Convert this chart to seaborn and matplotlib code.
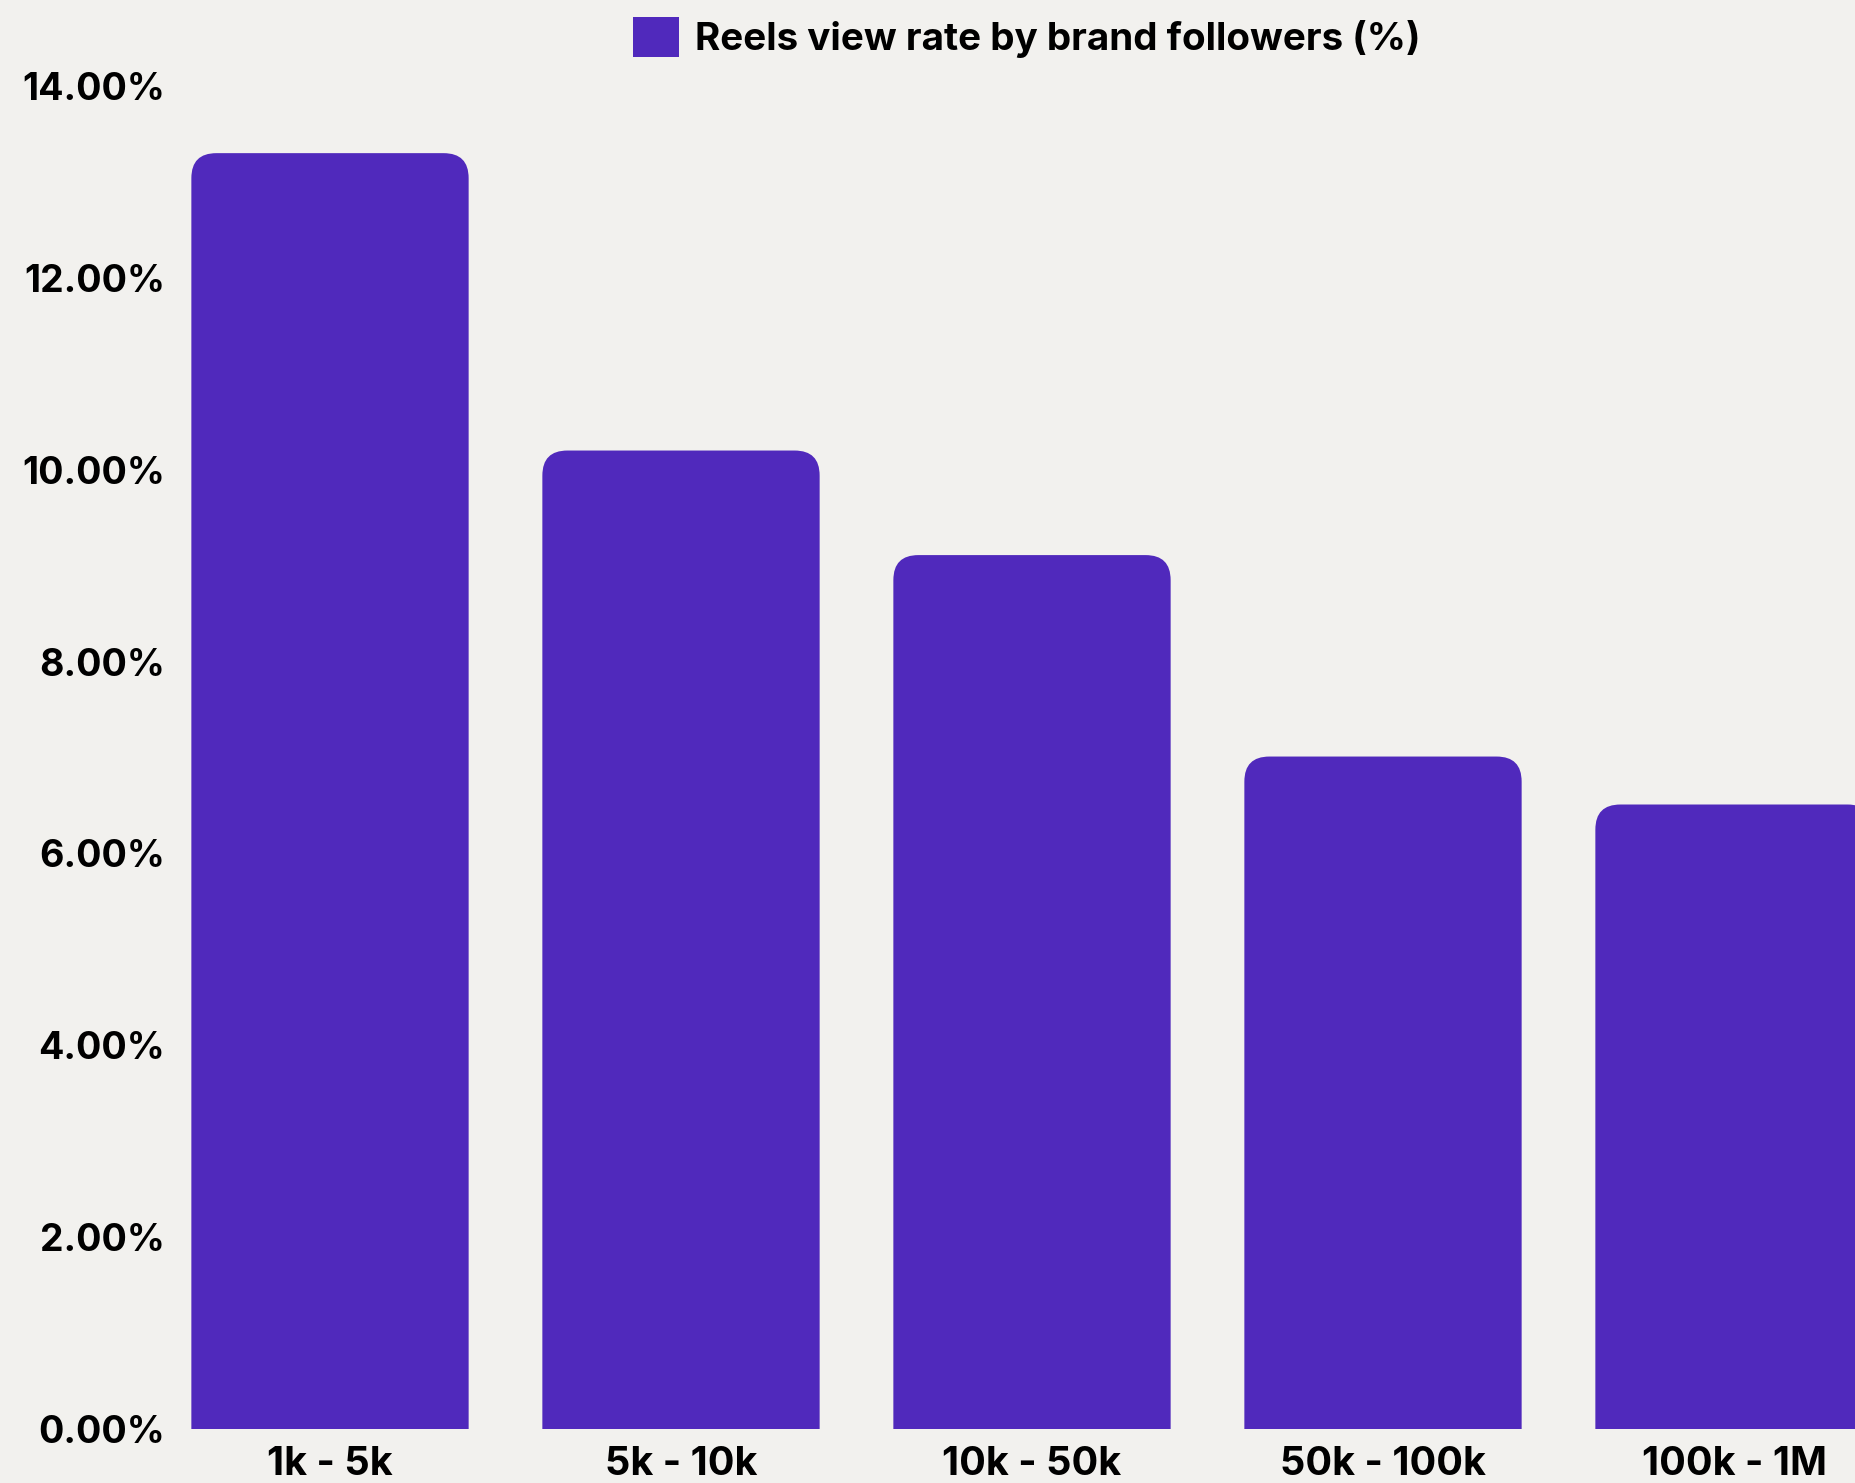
import matplotlib
matplotlib.use("Agg")
import matplotlib.pyplot as plt
import seaborn as sns
import pandas as pd
from matplotlib.patches import FancyBboxPatch, Patch

categories = ["1k - 5k", "5k - 10k", "10k - 50k", "50k - 100k", "100k - 1M"]
values = [13.30, 10.20, 9.11, 7.01, 6.51]
series_label = "Reels view rate by brand followers (%)"
yticks = [0, 2, 4, 6, 8, 10, 12, 14]

BAR = "#5029BC"
BG = "#F2F1EE"

sns.set_theme(style="white")
plt.rcParams["font.family"] = ["Inter", "DejaVu Sans"]
plt.rcParams["font.weight"] = "bold"
plt.rcParams["text.color"] = "black"

W, H = 1855, 1483
fig = plt.figure(figsize=(W / 100, H / 100), dpi=100, facecolor=BG)
left_px, right_px = 175, 1855
top_px, bottom_px = 86, 1429
ax = fig.add_axes([left_px / W, 1 - bottom_px / H, (right_px - left_px) / W, (bottom_px - top_px) / H])
ax.set_facecolor(BG)

df = pd.DataFrame({"cat": categories, "val": values})
sns.barplot(data=df, x="cat", y="val", color=BAR, width=0.79, ax=ax, saturation=1)

# x-limits: category spacing 351 px, first center at 330 px
step = 351.0
c0 = 330.0
ax.set_xlim((left_px - c0) / step, (right_px - c0) / step)
ax.set_ylim(0, 14)

# rounded top corners
xpx_per_unit = step
ypx_per_unit = (bottom_px - top_px) / 14.0
aspect = xpx_per_unit / ypx_per_unit
r = 25 / xpx_per_unit
for p in list(ax.patches):
    x, w, h = p.get_x(), p.get_width(), p.get_height()
    p.remove()
    fb = FancyBboxPatch((x, -1.0), w, h + 1.0,
                        boxstyle=f"round,pad=0,rounding_size={r}",
                        mutation_aspect=aspect, facecolor=BAR, edgecolor="none",
                        clip_on=True)
    ax.add_patch(fb)
    fb.set_clip_path(ax.patch)

ax.set_yticks(yticks)
ax.set_yticklabels([f"{v:.2f}%" for v in yticks])
ax.tick_params(axis="y", length=0, pad=7, labelsize=27)
ax.tick_params(axis="x", length=0, pad=12, labelsize=28.5)
for lab in ax.get_xticklabels() + ax.get_yticklabels():
    lab.set_fontweight("bold")
    lab.set_color("black")
ax.set_xlabel("")
ax.set_ylabel("")
for s in ax.spines.values():
    s.set_visible(False)
ax.grid(False)

handle = Patch(facecolor=BAR, edgecolor="none", label=series_label)
leg = fig.legend(handles=[handle], loc="center", bbox_to_anchor=(1027 / W, 1 - 37.5 / H),
                 frameon=False, prop={"family": ["Inter", "DejaVu Sans"], "weight": "bold", "size": 27.8},
                 handlelength=1.19, handleheight=1.22, handletextpad=0.42, borderpad=0, borderaxespad=0)
for t in leg.get_texts():
    t.set_color("black")

fig.savefig("out.png", dpi=100, facecolor=BG)
